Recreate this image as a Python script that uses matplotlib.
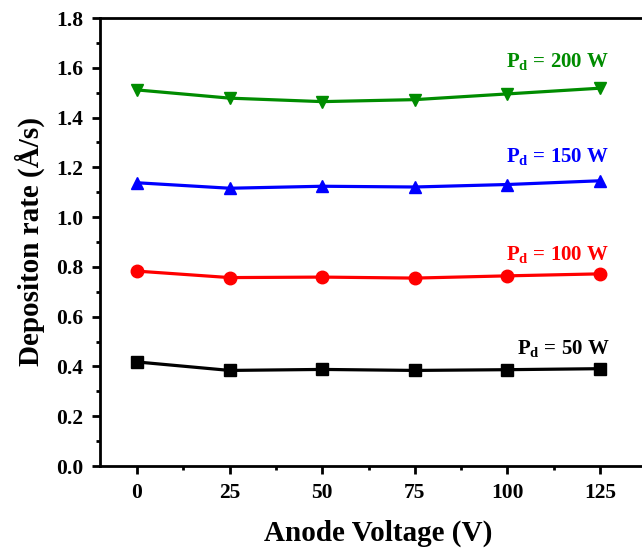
import numpy as np
import matplotlib
matplotlib.use("Agg")
import matplotlib.pyplot as plt
from matplotlib.ticker import MultipleLocator

plt.rcParams['font.family'] = ['Liberation Serif', 'DejaVu Serif']
plt.rcParams['font.weight'] = 'bold'
plt.rcParams['mathtext.fontset'] = 'custom'
plt.rcParams['mathtext.rm'] = 'Liberation Serif:bold'
plt.rcParams['mathtext.bf'] = 'Liberation Serif:bold'

# anode voltage (V)
voltage = [0, 25, 50, 75, 100, 125]

# deposition rate (A/s) for each discharge power
rate_50 = [0.418, 0.384, 0.388, 0.384, 0.387, 0.391]
rate_100 = [0.783, 0.757, 0.759, 0.755, 0.764, 0.772]
rate_150 = [1.138, 1.116, 1.124, 1.121, 1.131, 1.146]
rate_200 = [1.511, 1.478, 1.464, 1.472, 1.495, 1.518]

# (values, colour, marker, power label, label height)
series = [
    (rate_50, 'black', 's', '50', 0.47),
    (rate_100, '#ff0000', 'o', '100', 0.848),
    (rate_150, '#0000ff', '^', '150', 1.24),
    (rate_200, '#008c00', 'v', '200', 1.622),
]

fig = plt.figure(figsize=(6.42, 5.5), dpi=100)
ax = fig.add_axes([100 / 642, 84 / 550, 555.6 / 642, 448 / 550])

for vals, col, mk, p, ly in series:
    ax.plot(voltage, vals, color=col, marker=mk, markersize=9, linewidth=2.3)
    ax.text(127.5, ly, r'P$_\mathregular{d}$ = ' + p + ' W',
            color=col, fontsize=15, fontweight='bold', ha='right', va='center')

ax.set_xlim(-10, 140)
ax.set_ylim(0, 1.8)
ax.set_xticks(voltage)
ax.xaxis.set_minor_locator(MultipleLocator(12.5))
ax.yaxis.set_major_locator(MultipleLocator(0.2))
ax.yaxis.set_minor_locator(MultipleLocator(0.1))
ax.yaxis.set_major_formatter(matplotlib.ticker.FormatStrFormatter('%.1f'))

ax.tick_params(which='major', direction='out', length=6, width=2, labelsize=15.5, pad=6)
ax.tick_params(which='minor', direction='out', length=3, width=2)
ax.tick_params(top=False, right=False)
for s in ax.spines.values():
    s.set_linewidth(2)

ax.set_xlabel('Anode Voltage (V)', fontsize=21, fontweight='bold', labelpad=12)
ax.set_ylabel('Depositon rate (Å/s)', fontsize=21, fontweight='bold', labelpad=8)

fig.savefig('out.png', dpi=100)
